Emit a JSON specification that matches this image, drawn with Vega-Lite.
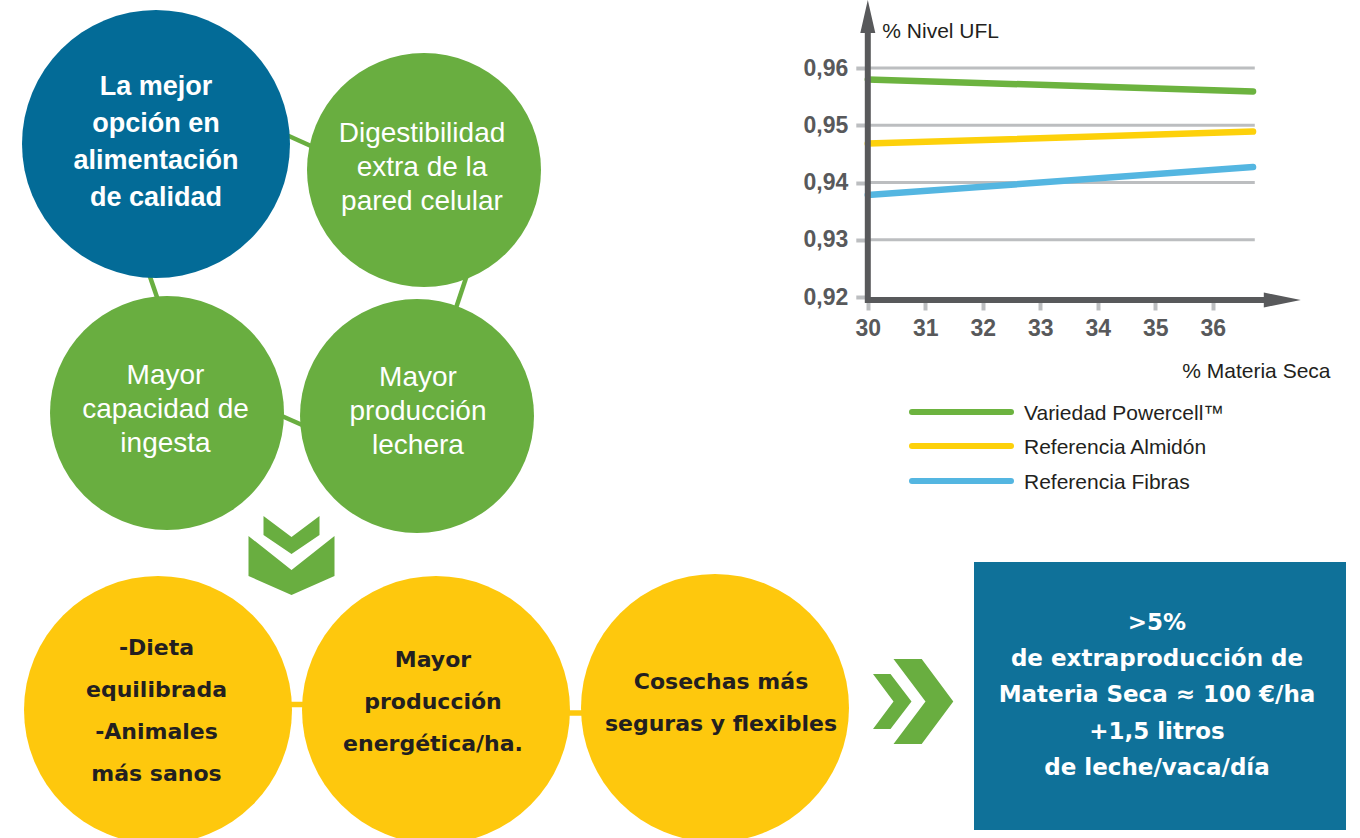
{
  "$schema": "https://vega.github.io/schema/vega-lite/v6.json",
  "width": 1360,
  "height": 838,
  "autosize": "none",
  "padding": 0,
  "background": "#ffffff",
  "config": {"view": {"stroke": null}},
  "datasets": {
    "nodes": [
      {"group": "blue", "x": 156, "y": 144},
      {"group": "green", "x": 424, "y": 170},
      {"group": "green", "x": 167, "y": 413},
      {"group": "green", "x": 417, "y": 416},
      {"group": "yellow", "x": 158, "y": 710},
      {"group": "yellow", "x": 436, "y": 710},
      {"group": "yellow", "x": 715, "y": 708}
    ],
    "connectors": [
      {"group": "green", "x": 281, "y": 132.5, "x2": 321, "y2": 150.5},
      {"group": "green", "x": 147, "y": 268, "x2": 160, "y2": 306},
      {"group": "green", "x": 469, "y": 269, "x2": 454, "y2": 314},
      {"group": "green", "x": 275, "y": 413, "x2": 309, "y2": 428},
      {"group": "yellow", "x": 280, "y": 704.5, "x2": 315, "y2": 704.5},
      {"group": "yellow", "x": 560, "y": 713, "x2": 590, "y2": 713}
    ],
    "labels": [
      {"group": "blue", "x": 156, "y": 95, "text": "La mejor\nopción en\nalimentación\nde calidad"},
      {"group": "green", "x": 422, "y": 142, "text": "Digestibilidad\nextra de la\npared celular"},
      {"group": "green", "x": 165.5, "y": 384, "text": "Mayor\ncapacidad de\ningesta"},
      {"group": "green", "x": 418, "y": 386, "text": "Mayor\nproducción\nlechera"},
      {"group": "yellow", "x": 156.5, "y": 655, "text": "-Dieta\nequilibrada\n-Animales\nmás sanos"},
      {"group": "yellow", "x": 433, "y": 667, "text": "Mayor\nproducción\nenergética/ha."},
      {"group": "yellow", "x": 721, "y": 689, "text": "Cosechas más\nseguras y flexibles"},
      {"group": "box", "x": 1157, "y": 630, "text": ">5%\nde extraproducción de\nMateria Seca ≈ 100 €/ha\n+1,5 litros\nde leche/vaca/día"}
    ],
    "box": [{"x": 974, "y": 562, "x2": 1346, "y2": 830}],
    "chevrons": [
      {"dir": "down", "x": 291.5, "y": 555},
      {"dir": "right", "x": 913, "y": 701.5}
    ],
    "legend": [
      {"serie": "Variedad Powercell™", "x": 912, "x2": 1011, "y": 412},
      {"serie": "Referencia Almidón", "x": 912, "x2": 1011, "y": 446},
      {"serie": "Referencia Fibras", "x": 912, "x2": 1011, "y": 481}
    ],
    "ufl": [
      {"serie": "Variedad Powercell™", "x": 30, "y": 0.958},
      {"serie": "Variedad Powercell™", "x": 36.7, "y": 0.9559},
      {"serie": "Referencia Almidón", "x": 30, "y": 0.9468},
      {"serie": "Referencia Almidón", "x": 36.7, "y": 0.9489},
      {"serie": "Referencia Fibras", "x": 30, "y": 0.9378},
      {"serie": "Referencia Fibras", "x": 36.7, "y": 0.9427}
    ],
    "grid": [
      {"x": 30, "x2": 36.73, "y": 0.93},
      {"x": 30, "x2": 36.73, "y": 0.94},
      {"x": 30, "x2": 36.73, "y": 0.95},
      {"x": 30, "x2": 36.73, "y": 0.96}
    ],
    "vaxis": [{"x": 30, "y": 0.92, "y2": 0.96}],
    "haxis": [{"x": 30, "x2": 36, "y": 0.92}],
    "yarrow": [{"x": 30, "y": 0.96}],
    "xarrow": [{"x": 36, "y": 0.92}]
  },
  "layer": [
    {
      "encoding": {
        "x": {"field": "x", "type": "quantitative", "scale": {"domain": [0, 1360], "nice": false, "zero": false}, "axis": null},
        "y": {"field": "y", "type": "quantitative", "scale": {"domain": [0, 838], "nice": false, "zero": false, "reverse": true}, "axis": null}
      },
      "layer": [
        {
          "data": {"name": "connectors"},
          "transform": [{"filter": "datum.group === 'green'"}],
          "mark": {"type": "rule", "color": "#69ae40", "strokeWidth": 4.5},
          "encoding": {"x2": {"field": "x2"}, "y2": {"field": "y2"}}
        },
        {
          "data": {"name": "connectors"},
          "transform": [{"filter": "datum.group === 'yellow'"}],
          "mark": {"type": "rule", "color": "#fec80d", "strokeWidth": 5.5},
          "encoding": {"x2": {"field": "x2"}, "y2": {"field": "y2"}}
        },
        {
          "data": {"name": "nodes"},
          "transform": [{"filter": "datum.group === 'blue'"}],
          "mark": {"type": "point", "shape": "circle", "size": 71824, "filled": true, "color": "#036b97", "opacity": 1, "strokeWidth": 0}
        },
        {
          "data": {"name": "nodes"},
          "transform": [{"filter": "datum.group === 'green'"}],
          "mark": {"type": "point", "shape": "circle", "size": 54756, "filled": true, "color": "#69ae40", "opacity": 1, "strokeWidth": 0}
        },
        {
          "data": {"name": "nodes"},
          "transform": [{"filter": "datum.group === 'yellow'"}],
          "mark": {"type": "point", "shape": "circle", "size": 71824, "filled": true, "color": "#fec80d", "opacity": 1, "strokeWidth": 0}
        },
        {
          "data": {"name": "box"},
          "mark": {"type": "rect", "color": "#0f7199"},
          "encoding": {"x2": {"field": "x2"}, "y2": {"field": "y2"}}
        },
        {
          "data": {"name": "chevrons"},
          "transform": [{"filter": "datum.dir === 'down'"}],
          "mark": {"type": "point", "shape": "M-28,-39L0,-18L28,-39L28,-20L0,-1L-28,-20ZM-43,-19L0,15L43,-19L43,21L0,40L-43,21Z", "size": 4, "filled": true, "color": "#69ae40", "opacity": 1, "strokeWidth": 0}
        },
        {
          "data": {"name": "chevrons"},
          "transform": [{"filter": "datum.dir === 'right'"}],
          "mark": {"type": "point", "shape": "M-40,-27.5L-22.5,-27.5L-1.5,0L-22.5,27.5L-40,27.5L-19.5,0ZM-19.5,-42.5L8.7,-42.5L40.3,0L8.7,42.5L-19.5,42.5L12.5,0Z", "size": 4, "filled": true, "color": "#69ae40", "opacity": 1, "strokeWidth": 0}
        },
        {
          "data": {"name": "labels"},
          "transform": [{"filter": "datum.group === 'blue'"}],
          "mark": {"type": "text", "font": "Liberation Sans", "fontWeight": "bold", "fontSize": 27, "color": "#ffffff", "align": "center", "baseline": "alphabetic", "lineBreak": "\n", "lineHeight": 37},
          "encoding": {"text": {"field": "text", "type": "nominal"}}
        },
        {
          "data": {"name": "labels"},
          "transform": [{"filter": "datum.group === 'green'"}],
          "mark": {"type": "text", "font": "Liberation Sans", "fontWeight": "normal", "fontSize": 28, "color": "#ffffff", "align": "center", "baseline": "alphabetic", "lineBreak": "\n", "lineHeight": 34},
          "encoding": {"text": {"field": "text", "type": "nominal"}}
        },
        {
          "data": {"name": "labels"},
          "transform": [{"filter": "datum.group === 'yellow'"}],
          "mark": {"type": "text", "font": "DejaVu Sans", "fontWeight": "bold", "fontSize": 22, "color": "#231f20", "align": "center", "baseline": "alphabetic", "lineBreak": "\n", "lineHeight": 42},
          "encoding": {"text": {"field": "text", "type": "nominal"}}
        },
        {
          "data": {"name": "labels"},
          "transform": [{"filter": "datum.group === 'box'"}],
          "mark": {"type": "text", "font": "DejaVu Sans", "fontWeight": "bold", "fontSize": 23, "color": "#ffffff", "align": "center", "baseline": "alphabetic", "lineBreak": "\n", "lineHeight": 36.2},
          "encoding": {"text": {"field": "text", "type": "nominal"}}
        },
        {
          "data": {"name": "legend"},
          "mark": {"type": "rule", "strokeWidth": 6, "strokeCap": "round"},
          "encoding": {
            "x2": {"field": "x2"},
            "color": {"field": "serie", "type": "nominal", "scale": {"domain": ["Variedad Powercell™", "Referencia Almidón", "Referencia Fibras"], "range": ["#6cb33f", "#fdd10b", "#54b6e1"]}, "legend": null}
          }
        },
        {
          "data": {"name": "legend"},
          "mark": {"type": "text", "font": "Liberation Sans", "fontSize": 21, "color": "#231f20", "align": "left", "baseline": "alphabetic", "dx": 112, "dy": 8},
          "encoding": {"text": {"field": "serie", "type": "nominal"}}
        }
      ]
    },
    {
      "encoding": {
        "x": {
          "field": "x", "type": "quantitative",
          "scale": {"domain": [30, 37], "range": [867.8, 1270.3], "nice": false, "zero": false},
          "axis": {
            "orient": "bottom", "offset": -541, "values": [30, 31, 32, 33, 34, 35, 36],
            "domain": false, "grid": false, "ticks": true, "tickColor": "#bcbec0", "tickWidth": 4, "tickSize": 13,
            "labelFont": "Liberation Sans", "labelFontWeight": "bold", "labelFontSize": 23, "labelColor": "#58595b",
            "labelPadding": 7, "labelFlush": false, "labelOverlap": false, "labelBound": false,
            "title": "% Materia Seca", "titleFont": "Liberation Sans", "titleFontWeight": "normal", "titleFontSize": 21,
            "titleColor": "#231f20", "titleX": 1330, "titleY": 80, "titleAlign": "right", "titleBaseline": "alphabetic", "titleAnchor": null
          }
        },
        "y": {
          "field": "y", "type": "quantitative",
          "scale": {"domain": [0.92, 0.96], "range": [297, 68], "nice": false, "zero": false},
          "axis": {
            "orient": "left", "offset": -867.8, "values": [0.92, 0.93, 0.94, 0.95, 0.96],
            "domain": false, "grid": false, "ticks": true, "tickColor": "#bcbec0", "tickWidth": 4, "tickSize": 12,
            "labelFont": "Liberation Sans", "labelFontWeight": "bold", "labelFontSize": 23, "labelColor": "#58595b",
            "labelPadding": 8, "labelFlush": false, "labelOverlap": false, "labelBound": false,
            "labelExpr": "replace(format(datum.value, '.2f'), '.', ',')",
            "title": "% Nivel UFL", "titleFont": "Liberation Sans", "titleFontWeight": "normal", "titleFontSize": 21,
            "titleColor": "#231f20", "titleAngle": 0, "titleX": 14, "titleY": 37, "titleAlign": "left", "titleBaseline": "alphabetic", "titleAnchor": null
          }
        }
      },
      "layer": [
        {
          "data": {"name": "grid"},
          "mark": {"type": "rule", "color": "#bcbec0", "strokeWidth": 3},
          "encoding": {"x2": {"field": "x2"}}
        },
        {
          "data": {"name": "ufl"},
          "mark": {"type": "line", "strokeWidth": 6.5, "strokeCap": "round"},
          "encoding": {
            "color": {"field": "serie", "type": "nominal", "scale": {"domain": ["Variedad Powercell™", "Referencia Almidón", "Referencia Fibras"], "range": ["#6cb33f", "#fdd10b", "#54b6e1"]}, "legend": null}
          }
        },
        {
          "data": {"name": "vaxis"},
          "mark": {"type": "rule", "color": "#58595b", "strokeWidth": 6},
          "encoding": {"y2": {"field": "y2"}}
        },
        {
          "data": {"name": "haxis"},
          "mark": {"type": "rule", "color": "#58595b", "strokeWidth": 6, "strokeCap": "square", "yOffset": 3},
          "encoding": {"x2": {"field": "x2"}}
        },
        {
          "data": {"name": "yarrow"},
          "mark": {"type": "point", "shape": "M-3,0L3,0L3,-35L7.5,-35L0,-68L-7.5,-35L-3,-35Z", "size": 4, "filled": true, "color": "#58595b", "opacity": 1, "strokeWidth": 0}
        },
        {
          "data": {"name": "xarrow"},
          "mark": {"type": "point", "shape": "M0,-3L51,-3L51,-7.5L88,0L51,7.5L51,3L0,3Z", "size": 4, "filled": true, "color": "#58595b", "opacity": 1, "strokeWidth": 0, "yOffset": 3}
        }
      ]
    }
  ],
  "resolve": {"scale": {"x": "independent", "y": "independent"}}
}
